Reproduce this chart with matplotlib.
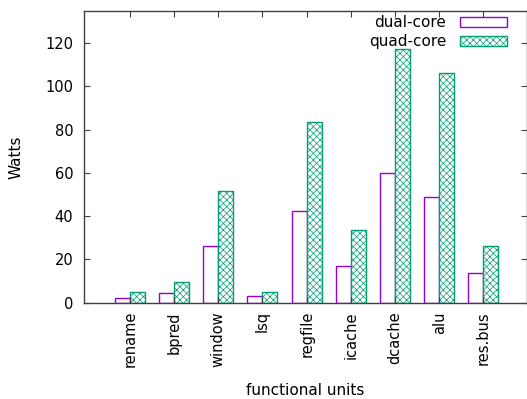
import matplotlib
matplotlib.use("Agg")
import matplotlib.pyplot as plt
import numpy as np

categories = ["rename", "bpred", "window", "lsq", "regfile", "icache", "dcache", "alu", "res.bus"]
dual_core = [2.3, 4.3, 26.3, 3.0, 42.4, 16.9, 59.8, 48.7, 13.6]
quad_core = [4.8, 9.4, 51.8, 5.1, 83.6, 33.6, 117.1, 106.0, 26.4]
yticks = [0, 20, 40, 60, 80, 100, 120]

purple = "#9400d3"
green = "#009e73"
axis_col = "#404040"

plt.rcParams["font.family"] = "DejaVu Sans"
plt.rcParams["hatch.linewidth"] = 0.5

fig = plt.figure(figsize=(5.27, 3.99), dpi=100)
ax = fig.add_axes([0.160, 0.2414, 0.8395, 0.731])

x = np.arange(len(categories))
w = 0.34
ax.bar(x - w / 2, dual_core, w, facecolor="white", edgecolor=purple, linewidth=1.0, label="dual-core")
ax.bar(x + w / 2, quad_core, w, facecolor="white", edgecolor=green, hatch="xxxxx", linewidth=1.0, label="quad-core")

ax.set_xlim(-1.03, 8.98)
ax.set_ylim(0, 134.8)
ax.set_xticks(x)
ax.set_xticklabels(categories, rotation=90, fontsize=10.5)
ax.set_yticks(yticks)
ax.tick_params(axis="y", labelsize=10.5, direction="in", length=4, right=True, color=axis_col, pad=8)
ax.tick_params(axis="x", direction="in", length=4, top=True, color=axis_col, pad=6)
for s in ax.spines.values():
    s.set_color(axis_col)
    s.set_linewidth(1.0)

ax.set_xlabel("functional units", fontsize=11, labelpad=11)
ax.set_ylabel("Watts", fontsize=11, labelpad=15.5)

ax.legend(loc="upper right", bbox_to_anchor=(0.98, 1.022), frameon=False, markerfirst=False,
          fontsize=11, handlelength=3.1, handleheight=0.6, labelspacing=0.25, handletextpad=0.9,
          borderaxespad=0.3)

fig.savefig("out.png", dpi=100)
